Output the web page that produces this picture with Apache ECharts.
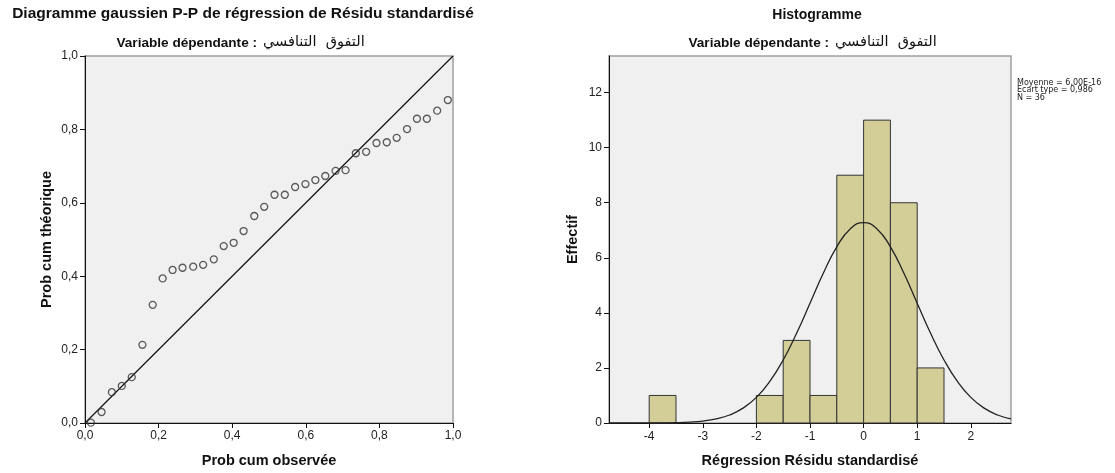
<!DOCTYPE html>
<html>
<head>
<meta charset="utf-8">
<script src="https://cdn.jsdelivr.net/npm/echarts@6/dist/echarts.min.js"></script>
<style>
html,body{margin:0;padding:0;background:#fff;}
#c{width:1115px;height:473px;}
</style>
</head>
<body>
<div id="c"></div>
<script>
// ---- P-P plot data ----
var ppObserved = [0.016,0.045,0.073,0.100,0.127,0.156,0.184,0.211,0.238,0.265,0.294,0.321,0.350,0.377,0.404,0.431,0.460,0.487,0.515,0.543,0.571,0.599,0.626,0.653,0.681,0.708,0.736,0.764,0.792,0.820,0.847,0.875,0.902,0.929,0.957,0.986];
var ppExpected = [0.001,0.030,0.084,0.101,0.125,0.213,0.322,0.394,0.417,0.423,0.426,0.431,0.446,0.482,0.491,0.523,0.564,0.589,0.622,0.622,0.643,0.651,0.662,0.673,0.687,0.689,0.735,0.739,0.763,0.765,0.777,0.801,0.829,0.829,0.851,0.880];
var ppTicks = [0,0.2,0.4,0.6,0.8,1.0];

// ---- Histogram data ----
var binStart = [-4,-3.5,-3,-2.5,-2,-1.5,-1,-0.5,0,0.5,1];
var binEnd   = [-3.5,-3,-2.5,-2,-1.5,-1,-0.5,0,0.5,1,1.5];
var binCount = [1,0,0,0,1,3,1,9,11,8,2];
var histXTicks = [-4,-3,-2,-1,0,1,2];
var histYTicks = [0,2,4,6,8,10,12];
// normal curve
var curveX = [-4.75,-4.5,-4.25,-4,-3.75,-3.5,-3.25,-3,-2.75,-2.5,-2.25,-2,-1.75,-1.5,-1.25,-1,-0.75,-0.5,-0.25,0,0.25,0.5,0.75,1,1.25,1.5,1.75,2,2.25,2.5,2.75];
var curveY = [0.0001,0.0002,0.0007,0.002,0.005,0.013,0.032,0.071,0.149,0.29,0.54,0.93,1.51,2.29,3.26,4.35,5.45,6.40,7.05,7.28,7.05,6.40,5.45,4.35,3.26,2.29,1.51,0.93,0.54,0.29,0.149];
var statsLines = ['Moyenne = 6,00E-16','Ecart type = 0,986','N = 36'];
var depLabel = 'Variable dépendante :';
var depName = 'التفوق  التنافسي';

var FONT = '"Liberation Sans", Arial, "DejaVu Sans", sans-serif';

function pairs(a,b){ return a.map(function(v,i){ return [v,b[i]]; }); }
function comma1(v){ return v.toFixed(1).replace('.',','); }

var chart = echarts.init(document.getElementById('c'), null, {renderer:'canvas'});

var axisCommon = {
  axisLine:{show:true,onZero:false,lineStyle:{color:'#111',width:1}},
  axisTick:{show:true,inside:false,length:5,lineStyle:{color:'#111',width:1}},
  splitLine:{show:false},
  nameTextStyle:{fontFamily:FONT,fontWeight:'bold',fontSize:14.5,color:'#111'}
};
var labelCommon = {fontFamily:FONT,fontSize:12,color:'#222'};

function subtitle(cx){
  return [
    {type:'text',x:cx+12,y:36,style:{text:depLabel,font:'bold 13.6px '+FONT,fill:'#111',align:'right'}},
    {type:'text',x:cx+18,y:35,style:{text:depName,font:'14.5px "DejaVu Sans", sans-serif',fill:'#111',align:'left'}}
  ];
}

var option = {
  backgroundColor:'#fff',
  animation:false,
  grid:[
    {left:85,top:56,width:368,height:367,show:true,backgroundColor:'#f0f0f0',borderColor:'#a0a0a0',borderWidth:1.5},
    {left:609,top:56,width:402,height:368,show:true,backgroundColor:'#f0f0f0',borderColor:'#a0a0a0',borderWidth:1.5}
  ],
  xAxis:[
    Object.assign({}, axisCommon, {
      gridIndex:0,type:'value',min:0,max:1,interval:0.2,
      name:'Prob cum observée',nameLocation:'middle',nameGap:30,
      axisLabel:Object.assign({}, labelCommon,{margin:7,formatter:comma1})
    }),
    Object.assign({}, axisCommon, {
      gridIndex:1,type:'value',min:-4.75,max:2.75,
      name:'Régression Résidu standardisé',nameLocation:'middle',nameGap:30,
      axisTick:{show:true,inside:false,length:5,lineStyle:{color:'#111',width:1},customValues:histXTicks},
      axisLabel:Object.assign({}, labelCommon,{margin:8,customValues:histXTicks,formatter:function(v){return String(v);}})
    })
  ],
  yAxis:[
    Object.assign({}, axisCommon, {
      gridIndex:0,type:'value',min:0,max:1,interval:0.2,
      name:'Prob cum théorique',nameLocation:'middle',nameGap:31,
      axisLabel:Object.assign({}, labelCommon,{margin:7,formatter:comma1})
    }),
    Object.assign({}, axisCommon, {
      gridIndex:1,type:'value',min:0,max:13.33,
      name:'Effectif',nameLocation:'middle',nameGap:29,
      axisTick:{show:true,inside:false,length:5,lineStyle:{color:'#111',width:1},customValues:histYTicks},
      axisLabel:Object.assign({}, labelCommon,{margin:7,customValues:histYTicks,formatter:function(v){return String(v);}})
    })
  ],
  series:[
    {
      type:'line',xAxisIndex:0,yAxisIndex:0,
      data:[[ppTicks[0],ppTicks[0]],[ppTicks[ppTicks.length-1],ppTicks[ppTicks.length-1]]],
      symbol:'none',lineStyle:{color:'#111',width:1.2},silent:true,z:3
    },
    {
      type:'scatter',xAxisIndex:0,yAxisIndex:0,
      data:pairs(ppObserved,ppExpected),
      symbol:'circle',symbolSize:7,
      itemStyle:{color:'rgba(0,0,0,0)',borderColor:'#333',borderWidth:1.3},z:4
    },
    {
      type:'custom',xAxisIndex:1,yAxisIndex:1,
      data:binStart.map(function(s,i){return [s,binEnd[i],binCount[i]];}),
      renderItem:function(params,api){
        var c = api.value(2);
        if(!c) return null;
        var p0 = api.coord([api.value(0),0]);
        var p1 = api.coord([api.value(1),c]);
        return {type:'rect',shape:{x:p0[0],y:p1[1],width:p1[0]-p0[0],height:p0[1]-p1[1]},
          style:{fill:'#d3ce97',stroke:'#333',lineWidth:1}};
      },
      encode:{x:[0,1],y:2},z:2
    },
    {
      type:'line',xAxisIndex:1,yAxisIndex:1,
      data:pairs(curveX,curveY),smooth:true,symbol:'none',
      lineStyle:{color:'#222',width:1.3},silent:true,z:5
    }
  ],
  graphic:[
    {type:'text',x:243,y:6,style:{text:'Diagramme gaussien P-P de régression de Résidu standardisé',font:'bold 15.5px '+FONT,fill:'#111',align:'center'}},
    {type:'text',x:817,y:8,style:{text:'Histogramme',font:'bold 14px '+FONT,fill:'#111',align:'center'}},
    {type:'text',x:1017,y:79,style:{text:statsLines.join('\n'),font:'8px "DejaVu Sans", sans-serif',lineHeight:7.5,fill:'#222'}}
  ].concat(subtitle(245)).concat(subtitle(817))
};
chart.setOption(option);
</script>
</body>
</html>
